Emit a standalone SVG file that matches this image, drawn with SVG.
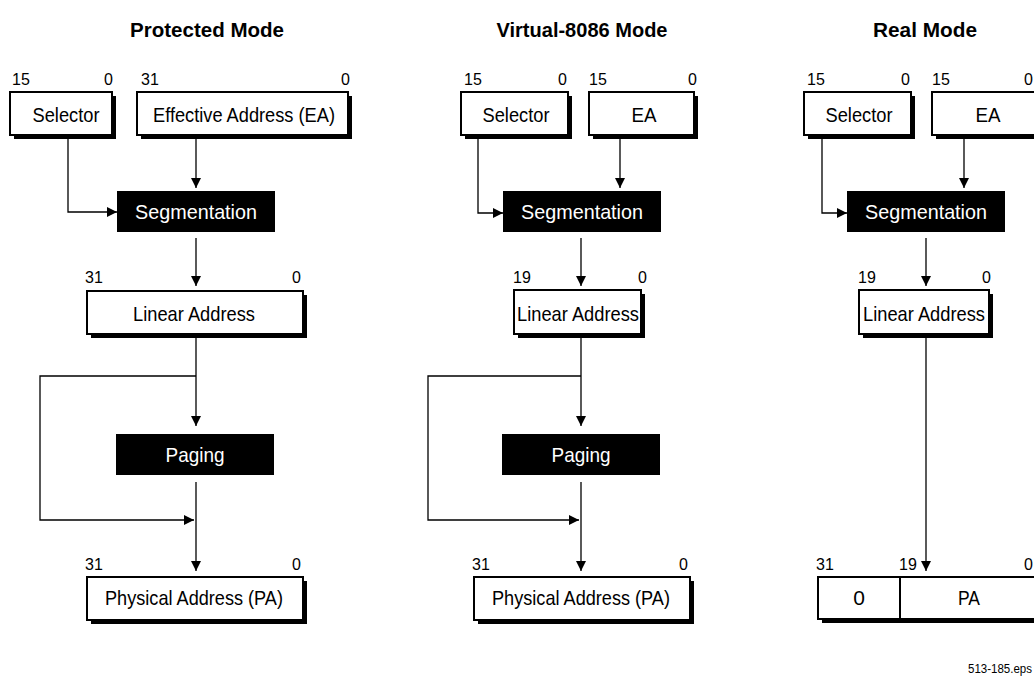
<svg xmlns="http://www.w3.org/2000/svg" width="1034" height="677" viewBox="0 0 1034 677">
<defs>
<marker id="ah" viewBox="0 0 10 10" refX="10" refY="5" markerWidth="10" markerHeight="10" markerUnits="userSpaceOnUse" orient="auto">
<path d="M0,0 L10,5 L0,10 z" fill="#000"/>
</marker>
</defs>
<style>
text{font-family:"Liberation Sans",Arial,sans-serif;fill:#000}
.title{font-size:21px;font-weight:bold;text-anchor:middle}
.lbl{font-size:21px;text-anchor:middle}
.num{font-size:16px}
.blk{fill:#000}
.wt{fill:#fff;font-size:21px;text-anchor:middle}
.box{fill:#fff;stroke:#000;stroke-width:2}
.sh{fill:#000}
.ln{fill:none;stroke:#000;stroke-width:1.3}
.arr{fill:none;stroke:#000;stroke-width:1.3;marker-end:url(#ah)}
.eps{font-size:12px;text-anchor:middle}
</style>
<rect width="1034" height="677" fill="#fff"/>
<text class="title" x="207" y="37" textLength="154" lengthAdjust="spacingAndGlyphs">Protected Mode</text>
<text class="title" x="582" y="37" textLength="171" lengthAdjust="spacingAndGlyphs">Virtual-8086 Mode</text>
<text class="title" x="925" y="37" textLength="104" lengthAdjust="spacingAndGlyphs">Real Mode</text>

<g id="connectors">
<!-- Protected -->
<polyline class="arr" points="68,135 68,212 117,212"/>
<line class="arr" x1="196" y1="136" x2="196" y2="188"/>
<line class="arr" x1="196" y1="238" x2="196" y2="286"/>
<line class="arr" x1="196" y1="336" x2="196" y2="426"/>
<polyline class="arr" points="196,376 40,376 40,520 194,520"/>
<line class="arr" x1="196" y1="482" x2="196" y2="571"/>
<!-- Virtual -->
<polyline class="arr" points="478,135 478,213 503,213"/>
<line class="arr" x1="620" y1="136" x2="620" y2="188"/>
<line class="arr" x1="581" y1="238" x2="581" y2="286"/>
<line class="arr" x1="581" y1="336" x2="581" y2="426"/>
<polyline class="arr" points="581,376 428,376 428,520 579,520"/>
<line class="arr" x1="581" y1="482" x2="581" y2="571"/>
<!-- Real -->
<polyline class="arr" points="822,135 822,213 847,213"/>
<line class="arr" x1="964" y1="136" x2="964" y2="188"/>
<line class="arr" x1="926" y1="238" x2="926" y2="286"/>
<line class="arr" x1="926" y1="336" x2="926" y2="571"/>
</g>

<!-- Protected mode nodes -->
<g id="p-selector">
<rect class="sh" x="14" y="96" width="102" height="43"/>
<rect class="box" x="10" y="92" width="102" height="43"/>
<text class="lbl" x="66" y="122" textLength="67" lengthAdjust="spacingAndGlyphs">Selector</text>
<text class="num" x="12" y="85">15</text>
<text class="num" x="104" y="85">0</text>
</g>
<g id="p-ea">
<rect class="sh" x="141" y="96" width="211" height="43"/>
<rect class="box" x="137" y="92" width="211" height="43"/>
<text class="lbl" x="244" y="122" textLength="182" lengthAdjust="spacingAndGlyphs">Effective Address (EA)</text>
<text class="num" x="141" y="85">31</text>
<text class="num" x="341" y="85">0</text>
</g>
<g id="p-seg">
<rect class="blk" x="117" y="191" width="158" height="41"/>
<text class="wt" x="196" y="219" textLength="122" lengthAdjust="spacingAndGlyphs">Segmentation</text>
</g>
<g id="p-linear">
<rect class="sh" x="91" y="295" width="216" height="43"/>
<rect class="box" x="87" y="291" width="216" height="43"/>
<text class="lbl" x="194" y="321" textLength="122" lengthAdjust="spacingAndGlyphs">Linear Address</text>
<text class="num" x="85" y="283">31</text>
<text class="num" x="292" y="283">0</text>
</g>
<g id="p-paging">
<rect class="blk" x="116" y="434" width="158" height="41"/>
<text class="wt" x="195" y="462" textLength="59" lengthAdjust="spacingAndGlyphs">Paging</text>
</g>
<g id="p-pa">
<rect class="sh" x="91" y="581" width="216" height="43"/>
<rect class="box" x="87" y="577" width="216" height="43"/>
<text class="lbl" x="194" y="605" textLength="178" lengthAdjust="spacingAndGlyphs">Physical Address (PA)</text>
<text class="num" x="85" y="570">31</text>
<text class="num" x="292" y="570">0</text>
</g>

<!-- Virtual-8086 nodes -->
<g id="v-selector">
<rect class="sh" x="465" y="96" width="107" height="43"/>
<rect class="box" x="461" y="92" width="107" height="43"/>
<text class="lbl" x="516" y="122" textLength="67" lengthAdjust="spacingAndGlyphs">Selector</text>
<text class="num" x="464" y="85">15</text>
<text class="num" x="558" y="85">0</text>
</g>
<g id="v-ea">
<rect class="sh" x="593" y="96" width="105" height="43"/>
<rect class="box" x="589" y="92" width="105" height="43"/>
<text class="lbl" x="644" y="122" textLength="25" lengthAdjust="spacingAndGlyphs">EA</text>
<text class="num" x="589" y="85">15</text>
<text class="num" x="688" y="85">0</text>
</g>
<g id="v-seg">
<rect class="blk" x="503" y="191" width="158" height="41"/>
<text class="wt" x="582" y="219" textLength="122" lengthAdjust="spacingAndGlyphs">Segmentation</text>
</g>
<g id="v-linear">
<rect class="sh" x="518" y="294" width="127" height="44"/>
<rect class="box" x="514" y="290" width="127" height="44"/>
<text class="lbl" x="578" y="321" textLength="122" lengthAdjust="spacingAndGlyphs">Linear Address</text>
<text class="num" x="513" y="283">19</text>
<text class="num" x="638" y="283">0</text>
</g>
<g id="v-paging">
<rect class="blk" x="502" y="434" width="158" height="41"/>
<text class="wt" x="581" y="462" textLength="59" lengthAdjust="spacingAndGlyphs">Paging</text>
</g>
<g id="v-pa">
<rect class="sh" x="478" y="581" width="216" height="43"/>
<rect class="box" x="474" y="577" width="216" height="43"/>
<text class="lbl" x="581" y="605" textLength="178" lengthAdjust="spacingAndGlyphs">Physical Address (PA)</text>
<text class="num" x="472" y="570">31</text>
<text class="num" x="679" y="570">0</text>
</g>

<!-- Real mode nodes -->
<g id="r-selector">
<rect class="sh" x="808" y="96" width="107" height="43"/>
<rect class="box" x="804" y="92" width="107" height="43"/>
<text class="lbl" x="859" y="122" textLength="67" lengthAdjust="spacingAndGlyphs">Selector</text>
<text class="num" x="807" y="85">15</text>
<text class="num" x="901" y="85">0</text>
</g>
<g id="r-ea">
<rect class="sh" x="936" y="96" width="109" height="43"/>
<rect class="box" x="932" y="92" width="109" height="43"/>
<text class="lbl" x="988" y="122" textLength="25" lengthAdjust="spacingAndGlyphs">EA</text>
<text class="num" x="932" y="85">15</text>
<text class="num" x="1024" y="85">0</text>
</g>
<g id="r-seg">
<rect class="blk" x="847" y="191" width="158" height="41"/>
<text class="wt" x="926" y="219" textLength="122" lengthAdjust="spacingAndGlyphs">Segmentation</text>
</g>
<g id="r-linear">
<rect class="sh" x="863" y="294" width="130" height="44"/>
<rect class="box" x="859" y="290" width="130" height="44"/>
<text class="lbl" x="924" y="321" textLength="122" lengthAdjust="spacingAndGlyphs">Linear Address</text>
<text class="num" x="858" y="283">19</text>
<text class="num" x="982" y="283">0</text>
</g>
<g id="r-pa">
<rect class="sh" x="822" y="581" width="230" height="42"/>
<rect class="box" x="818" y="577" width="230" height="42"/>
<line class="ln" x1="900" y1="577" x2="900" y2="619" style="stroke-width:2"/>
<text class="lbl" x="859" y="605">0</text>
<text class="lbl" x="969" y="605" textLength="22" lengthAdjust="spacingAndGlyphs">PA</text>
<text class="num" x="816" y="570">31</text>
<text class="num" x="899" y="570">19</text>
<text class="num" x="1024" y="570">0</text>
</g>

<text class="eps" x="1000" y="673" textLength="64" lengthAdjust="spacingAndGlyphs">513-185.eps</text>
</svg>
